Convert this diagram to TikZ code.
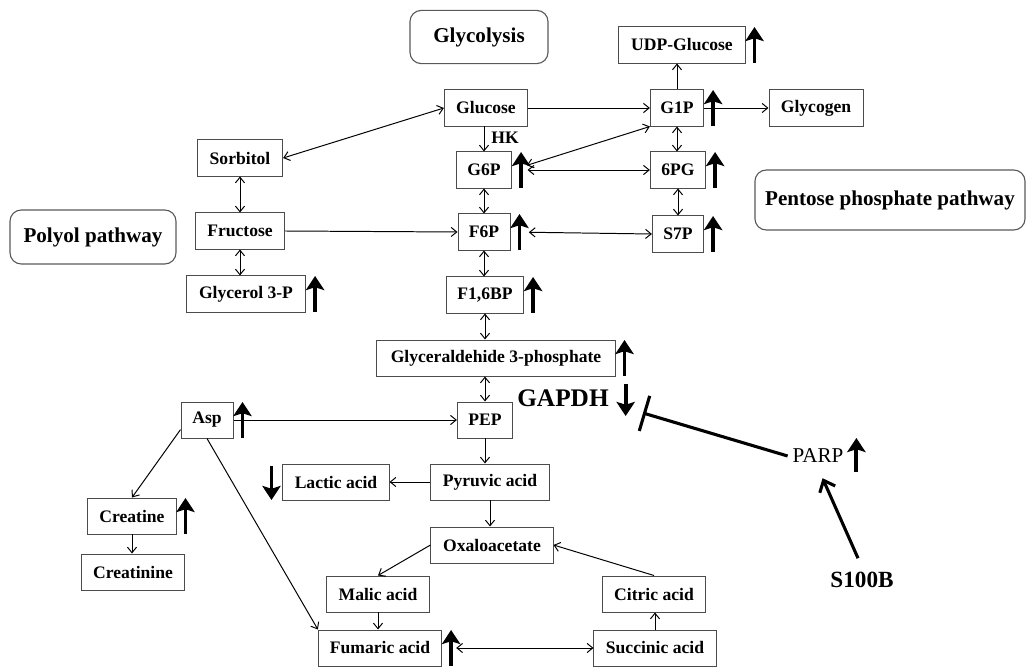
\documentclass[tikz,border=0pt]{standalone}
\usepackage{fontspec}
\setmainfont{Liberation Serif}
\usepackage{tikz}
\usetikzlibrary{arrows.meta,calc}
\newcommand{\boxfont}{\fontsize{12.5}{14}\selectfont\bfseries}
\newcommand{\pathfont}{\fontsize{15}{17}\selectfont\bfseries}

\begin{document}
\begin{tikzpicture}[x=0.025cm,y=-0.025cm,
    met/.style={draw=black!70,line width=0.7pt,minimum height=0.9cm,inner sep=2pt,font=\boxfont},
    pathway/.style={draw=black!65,rounded corners=8pt,line width=0.8pt,font=\pathfont},
    conn/.style={-{Straight Barb[length=4pt,width=6.5pt]},line width=0.7pt},
    both/.style={{Straight Barb[length=4pt,width=6.5pt]}-{Straight Barb[length=4pt,width=6.5pt]},line width=0.7pt},
    upmark/.style={-{Stealth[length=10pt,width=13pt,inset=2pt]},line width=2.8pt},
    big/.style={-{Straight Barb[length=7pt,width=12pt]},line width=2.2pt},
    inhib/.style={-{Bar[width=26pt]},line width=2.2pt}
  ]
    \useasboundingbox (0,0) rectangle (1028,668);
    % pathway labels
    \node[pathway,minimum width=3.45cm,minimum height=1.33cm] (glyco) at (479,37) {Glycolysis};
    \node[pathway,minimum width=4.15cm,minimum height=1.35cm] (polyol) at (93,237) {Polyol pathway};
    \node[pathway,minimum width=6.75cm,minimum height=1.5cm] (ppp) at (890,200) {Pentose phosphate pathway};
    % metabolites
    \node[met,minimum width=2.08cm] (Glucose) at (486,108) {Glucose};
    \node[met,minimum width=1.38cm] (G6P) at (484,170) {G6P};
    \node[font=\boxfont] (HK) at (505,138) {HK};
    \node[met,minimum width=2.13cm] (Sorbitol) at (240,158) {Sorbitol};
    \node[met,minimum width=2.23cm] (Fructose) at (240,231) {Fructose};
    \node[met,minimum width=2.98cm] (Glycerol) at (246,294) {Glycerol 3-P};
    \node[met,minimum width=3.15cm] (UDP) at (682,45) {UDP-Glucose};
    \node[met,minimum width=1.33cm] (G1P) at (677,108) {G1P};
    \node[met,minimum width=2.35cm] (Glycogen) at (816,108) {Glycogen};
    \node[met,minimum width=1.38cm] (PG6) at (678,170) {6PG};
    \node[met,minimum width=1.28cm] (S7P) at (678,234) {S7P};
    \node[met,minimum width=1.3cm] (F6P) at (484,232) {F6P};
    \node[met,minimum width=1.93cm] (F16BP) at (485,295) {F1,6BP};
    \node[met,minimum width=5.95cm] (GAP) at (496,358) {Glyceraldehide 3-phosphate};
    \node[met,minimum width=1.38cm] (PEP) at (485,420) {PEP};
    \node[met,minimum width=1.3cm] (Asp) at (207,420) {Asp};
    \node[met,minimum width=2.65cm] (Lactic) at (336,482) {Lactic acid};
    \node[met,minimum width=2.95cm] (Pyruvic) at (490,482) {Pyruvic acid};
    \node[met,minimum width=3.05cm] (Oxalo) at (492,545) {Oxaloacetate};
    \node[met,minimum width=2.2cm] (Creatine) at (132,516) {Creatine};
    \node[met,minimum width=2.58cm] (Creatinine) at (133,572) {Creatinine};
    \node[met,minimum width=2.55cm] (Malic) at (378,594) {Malic acid};
    \node[met,minimum width=3.08cm] (Fumaric) at (380,648) {Fumaric acid};
    \node[met,minimum width=2.58cm] (Citric) at (654,594) {Citric acid};
    \node[met,minimum width=3.05cm] (Succinic) at (655,648) {Succinic acid};
    % enzymes and regulators
    \node[font=\fontsize{18}{20}\selectfont\bfseries] (GAPDH) at (563,398) {GAPDH};
    \node[font=\fontsize{15}{17}\selectfont] (PARP) at (818,456) {PARP};
    \node[font=\fontsize{16.5}{18}\selectfont\bfseries] (S100B) at (862,580) {S100B};
    \coordinate (gapdhhit) at (643,413);
    % polyol pathway
    \draw[both] (Sorbitol.east) -- (Glucose.west);
    \draw[both] (Sorbitol.south) -- (Sorbitol.south |- Fructose.north);
    \draw[both] (Fructose.south) -- (Fructose.south |- Glycerol.north);
    \draw[conn] (Fructose.east) -- (F6P.west);
    % glycolysis
    \draw[conn] (G6P.north |- Glucose.south) -- (G6P.north);
    \draw[conn] (Glucose.east) -- (G1P.west);
    \draw[both] (G6P.south) -- (G6P.south |- F6P.north);
    \draw[both] (F6P.south) -- (F6P.south |- F16BP.north);
    \draw[both] (F16BP.south) -- (F16BP.south |- GAP.north);
    \draw[both] (PEP.north |- GAP.south) -- (PEP.north);
    \draw[conn] (PEP.south) -- (PEP.south |- Pyruvic.north);
    \draw[conn] (Pyruvic.west) -- (Lactic.east);
    \draw[conn] (Pyruvic.south) -- (Pyruvic.south |- Oxalo.north);
    % pentose phosphate pathway and glycogen
    \draw[conn] (G1P.north) -- (G1P.north |- UDP.south);
    \draw[conn] (G1P.east) -- (Glycogen.west);
    \draw[both,shorten <=11pt] (G6P.east) -- (G1P.south west);
    \draw[both,shorten <=11pt] (G6P.east) -- (PG6.west);
    \draw[both,shorten <=13pt] (F6P.east) -- (S7P.west);
    \draw[both] (G1P.south) -- (G1P.south |- PG6.north);
    \draw[both] (PG6.south) -- (PG6.south |- S7P.north);
    % aspartate and TCA cycle
    \draw[conn] (Asp.east) -- (PEP.west);
    \draw[conn] (Asp.200) -- (Creatine.north);
    \draw[conn] (Creatine.south) -- (Creatine.south |- Creatinine.north);
    \draw[conn] (Asp.south) -- (Fumaric.north west);
    \draw[conn] (Oxalo.west) -- (Malic.north);
    \draw[conn] (Malic.south) -- (Malic.south |- Fumaric.north);
    \draw[both,shorten <=10pt] (Fumaric.east) -- (Succinic.west);
    \draw[conn] (Succinic.north) -- (Succinic.north |- Citric.south);
    \draw[conn] (Citric.north) -- (Oxalo.east);
    % S100B / PARP / GAPDH
    \draw[big,shorten <=7pt,shorten >=8pt] (S100B.north) -- (PARP.south);
    \draw[inhib] (PARP.west) -- (gapdhhit);
    % up / down markers
    \foreach \n in {UDP,G1P,G6P,PG6,F6P,S7P,F16BP,GAP,Glycerol,Asp,Creatine,Fumaric}
      \draw[upmark] ($(\n.east)+(9,18)$) -- ($(\n.east)+(9,-18)$);
    \draw[upmark] ($(Lactic.west)+(-11,-16)$) -- ($(Lactic.west)+(-11,18)$);
    \draw[upmark] ($(GAPDH.east)+(12,-14)$) -- ($(GAPDH.east)+(12,18)$);
    \draw[upmark] ($(PARP.east)+(8,16)$) -- ($(PARP.east)+(8,-18)$);
  \end{tikzpicture}
\end{document}
